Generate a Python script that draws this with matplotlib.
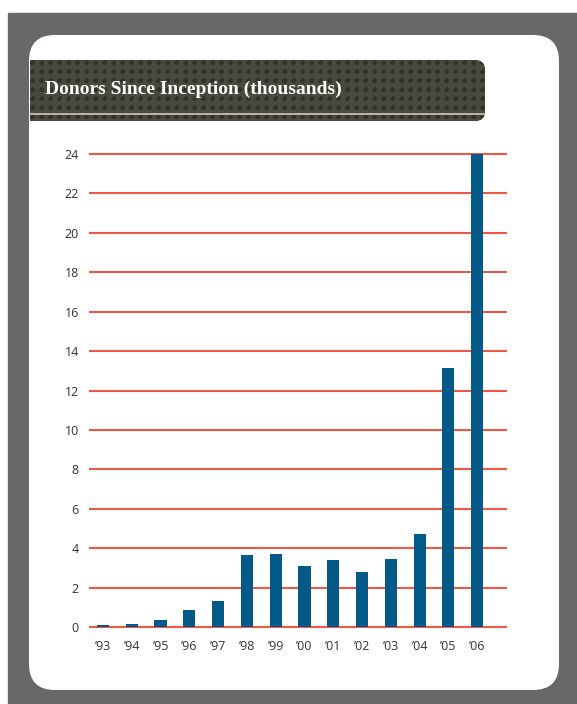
import matplotlib
matplotlib.use("Agg")
import matplotlib.pyplot as plt
import numpy as np
from matplotlib.patches import Rectangle, FancyBboxPatch

# данные (тыс. доноров)
years = ["’93", "’94", "’95", "’96", "’97", "’98", "’99", "’00", "’01", "’02", "’03", "’04", "’05", "’06"]
donors = [0.1, 0.15, 0.35, 0.86, 1.32, 3.65, 3.7, 3.09, 3.39, 2.78, 3.44, 4.71, 13.16, 24.0]
yticks = list(range(0, 25, 2))
title = "Donors Since Inception (thousands)"

W, H = 577, 704
fig = plt.figure(figsize=(W / 100, H / 100), dpi=100)

# фон в пикселях
bg = fig.add_axes([0, 0, 1, 1])
bg.axis("off")

bg.add_patch(Rectangle((8, 13), W - 8, H - 13, color="#6a6768", zorder=0))
bg.add_patch(FancyBboxPatch((29, 35), 530, 655, boxstyle="round,pad=0,rounding_size=26",
                            fc="white", ec="none", zorder=1))

# плашка заголовка: скругление только справа
banner = FancyBboxPatch((30, 60), 455, 61, boxstyle="round,pad=0,rounding_size=10",
                        fc="#46453a", ec="none", zorder=2)
bg.add_patch(banner)
left_part = Rectangle((30, 60), 30, 61, fc="#46453a", ec="none", zorder=2)
bg.add_patch(left_part)

# текстура из точек
yy, xx = np.mgrid[0:61, 0:455]
dots = ((np.sin(xx * 2 * np.pi / 9) + np.sin(yy * 2 * np.pi / 9)) > 0.8).astype(float)
cm = matplotlib.colors.ListedColormap(["#4a493d", "#34332a"])
for clip in (banner, left_part):
    tex = bg.imshow(dots, extent=(30, 485, 121, 60), cmap=cm,
                    interpolation="bilinear", zorder=3, aspect="auto")
    tex.set_clip_path(clip)
bg.set_xlim(0, W)
bg.set_ylim(H, 0)

bg.plot([30, 484], [114, 114], color="#d6d6cc", lw=1.1, zorder=4)
bg.text(45, 89, title, color="white", fontsize=14, fontweight="bold",
        family=["Liberation Serif", "DejaVu Serif"], va="center", ha="left", zorder=5)

# сам график
ax = fig.add_axes([90 / W, 77 / H, 416 / W, 473 / H])
ax.patch.set_alpha(0)
x = np.arange(len(years))
ax.bar(x, donors, width=0.42, color="#035a89", zorder=3)
for v in yticks:
    ax.axhline(v, color="#ee5944", lw=1.5, zorder=2, clip_on=False)

ax.set_xlim(-0.45, len(years) - 1 + 1.0)
ax.set_ylim(0, 24)
ax.set_yticks(yticks)
ax.set_xticks(x)
ax.set_xticklabels(years)
for s in ax.spines.values():
    s.set_visible(False)
ax.tick_params(length=0, labelsize=9, labelcolor="#333333", pad=8)
ax.tick_params(axis="x", pad=9)
for lab in ax.get_xticklabels() + ax.get_yticklabels():
    lab.set_family(["Open Sans", "DejaVu Sans"])

fig.savefig("out.png", dpi=100)
